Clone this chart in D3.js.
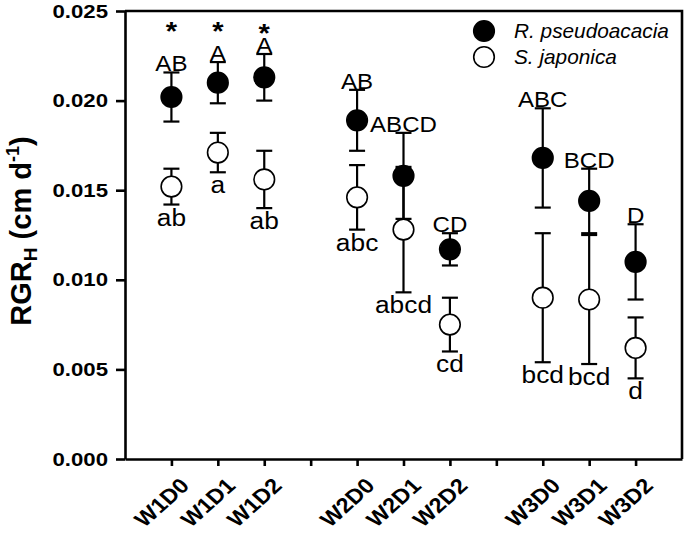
<!DOCTYPE html>
<html><head><meta charset="utf-8">
<script src="https://cdn.jsdelivr.net/npm/d3@7/dist/d3.min.js"></script>
<style>body{margin:0;background:#fff}svg{display:block}text{font-family:"Liberation Sans",Arial,sans-serif}</style>
</head><body>
<svg id="c" width="685" height="535"></svg>
<script>
// ---- data ----
const groups = ["W1", "W2", "W3"];
const treatments = ["D0", "D1", "D2"];
const categories = ["W1D0","W1D1","W1D2","W2D0","W2D1","W2D2","W3D0","W3D1","W3D2"];
const rMean = [0.0202, 0.0210, 0.0213, 0.0189, 0.0158, 0.0117, 0.0168, 0.0144, 0.0110];
const rErr  = [0.00137, 0.00115, 0.0013, 0.0017, 0.0024, 0.0009, 0.00277, 0.0018, 0.0021];
const sMean = [0.0152, 0.0171, 0.0156, 0.0146, 0.0128, 0.0075, 0.0090, 0.0089, 0.0062];
const sErr  = [0.0010, 0.0011, 0.0016, 0.0018, 0.0035, 0.0015, 0.0036, 0.0036, 0.0017];
const rLetters = ["AB","A","A","AB","ABCD","CD","ABC","BCD","D"];
const sLetters = ["ab","a","ab","abc","abcd","cd","bcd","bcd","d"];
const sigStars = ["*","*","*","","","","","",""];
const starLevel = [0.0235, 0.0235, 0.0234, 0, 0, 0, 0, 0, 0];
const yTickValues = [0, 0.005, 0.010, 0.015, 0.020, 0.025];
const seriesNames = ["R. pseudoacacia", "S. japonica"];

// ---- layout ----
const L = 125, R = 682, T = 11, B = 459;
const svg = d3.select("#c");
const nSlots = groups.length * (treatments.length + 1);
const x = d3.scaleLinear().domain([0, nSlots]).range([L, R]);
const y = d3.scaleLinear().domain([0, 0.025]).range([B, T]);
const slotOf = i => Math.floor(i / treatments.length) * (treatments.length + 1) + (i % treatments.length) + 1;

// frame top/right
svg.append("path").attr("d", `M${L},${T}H${R}V${B}`).attr("fill","none").attr("stroke","#000").attr("stroke-width",2.6);

// y axis
const ya = svg.append("g").attr("transform", `translate(${L},0)`)
  .call(d3.axisLeft(y).tickValues(yTickValues).tickSize(9).tickSizeOuter(0).tickFormat(""));
ya.selectAll("path,line").attr("stroke","#000").attr("stroke-width",2.6);
yTickValues.forEach(v => {
  svg.append("text").attr("transform", `translate(${L-17},${y(v)}) scale(1.2,1)`)
    .attr("text-anchor","end").attr("dy","0.36em")
    .attr("font-size",18.5).attr("font-weight","bold").text(d3.format(".3f")(v));
});

// x axis
const xa = svg.append("g").attr("transform", `translate(0,${B})`)
  .call(d3.axisBottom(x).tickValues(d3.range(1, nSlots)).tickSize(7).tickSizeOuter(0).tickFormat(""));
xa.selectAll("path,line").attr("stroke","#000").attr("stroke-width",2.6);
categories.forEach((c, i) => {
  svg.append("text").attr("transform", `translate(${x(slotOf(i))+19},${B+28}) scale(1.12,1) rotate(-45)`)
    .attr("text-anchor","end").attr("font-size",21).attr("font-weight","bold").text(c);
});

// y title
const yt = svg.append("text").attr("transform", `translate(31,231) rotate(-90)`)
  .attr("text-anchor","middle").attr("font-size",29).attr("font-weight","bold");
yt.append("tspan").text("RGR");
yt.append("tspan").attr("font-size",19).attr("dy",6).text("H");
yt.append("tspan").attr("dy",-6).text(" (cm d");
yt.append("tspan").attr("font-size",18).attr("dy",-12).text("-1");
yt.append("tspan").attr("dy",12).text(")");

// error bars
const capW = 8;
function errBar(cx, m, e) {
  const g = svg.append("g").attr("stroke","#000").attr("stroke-width",2.2);
  g.append("line").attr("x1",cx).attr("x2",cx).attr("y1",y(m+e)).attr("y2",y(m-e));
  g.append("line").attr("x1",cx-capW).attr("x2",cx+capW).attr("y1",y(m+e)).attr("y2",y(m+e));
  g.append("line").attr("x1",cx-capW).attr("x2",cx+capW).attr("y1",y(m-e)).attr("y2",y(m-e));
}
categories.forEach((c,i) => { errBar(x(slotOf(i)), rMean[i], rErr[i]); errBar(x(slotOf(i)), sMean[i], sErr[i]); });

// points
categories.forEach((c,i) => {
  const cx = x(slotOf(i));
  svg.append("circle").attr("cx",cx).attr("cy",y(sMean[i])).attr("r",10.3).attr("fill","#fff").attr("stroke","#000").attr("stroke-width",1.6);
  svg.append("circle").attr("cx",cx).attr("cy",y(rMean[i])).attr("r",10.3).attr("fill","#000").attr("stroke","#000").attr("stroke-width",1.6);
});

// letters
function label(cx, cy, txt, size, weight) {
  svg.append("text").attr("transform", `translate(${cx},${cy}) scale(1.12,1)`)
    .attr("text-anchor","middle").attr("font-size",size).attr("font-weight",weight||"normal").text(txt);
}
categories.forEach((c,i) => {
  const cx = x(slotOf(i));
  label(cx, y(rMean[i]+rErr[i]) - 1, rLetters[i], 21.5);
  label(cx, y(sMean[i]-sErr[i]) + 21, sLetters[i], 23.5);
  if (sigStars[i]) label(cx, y(starLevel[i]) + 2, sigStars[i], 26, "bold");
});

// legend
seriesNames.forEach((n, k) => {
  const ly = 31 + k * 26;
  svg.append("circle").attr("cx",484).attr("cy",ly).attr("r",10.3)
    .attr("fill", k === 0 ? "#000" : "#fff").attr("stroke","#000").attr("stroke-width",1.6);
  svg.append("text").attr("x",514).attr("y",ly+7).attr("font-size",20.8).attr("font-style","italic").text(n);
});
</script>
</body></html>
